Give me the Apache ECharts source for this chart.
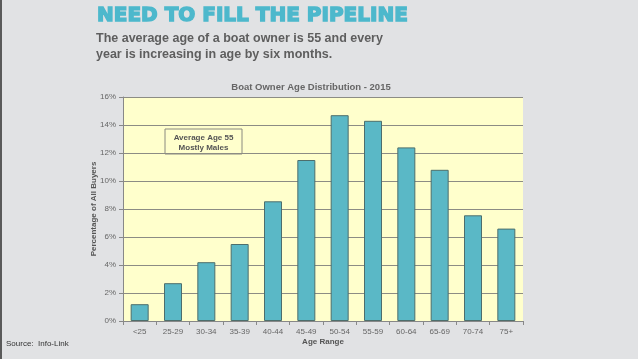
<!DOCTYPE html>
<html>
<head>
<meta charset="utf-8">
<script src="https://cdn.jsdelivr.net/npm/echarts@6/dist/echarts.min.js"></script>
<style>
html,body{margin:0;padding:0;background:#e1e2e4;}
#c{width:638px;height:359px;}
</style>
</head>
<body>
<div id="c"></div>
<script>
const categories = ['<25','25-29','30-34','35-39','40-44','45-49','50-54','55-59','60-64','65-69','70-74','75+'];
const shares = [1.2, 2.7, 4.2, 5.5, 8.55, 11.5, 14.7, 14.3, 12.4, 10.8, 7.55, 6.6];
const yTicks = [0, 2, 4, 6, 8, 10, 12, 14, 16];

const chart = echarts.init(document.getElementById('c'), null, {renderer:'canvas'});
const F = 'Liberation Sans, Arial, sans-serif';
chart.setOption({
  backgroundColor: '#e1e2e4',
  animation: false,
  grid: {left: 123, right: 115, top: 97, bottom: 38, backgroundColor: '#ffffcc', show: true, borderWidth: 0},
  title: {
    text: 'Boat Owner Age Distribution - 2015',
    left: 306, top: 77, textAlign: 'center',
    textStyle: {fontFamily: F, fontSize: 9.5, fontWeight: 'bold', color: '#666'}
  },
  xAxis: {
    type: 'category',
    data: categories,
    name: 'Age Range',
    nameLocation: 'middle',
    nameGap: 17,
    nameMoveOverlap: false,
    nameTextStyle: {fontFamily: F, fontSize: 8, fontWeight: 'bold', color: '#555'},
    axisLine: {lineStyle: {color: '#888', width: 1}},
    axisTick: {show: true, length: 4, lineStyle: {color: '#888'}},
    axisLabel: {fontFamily: F, fontSize: 8, color: '#666', margin: 7, interval: 0}
  },
  yAxis: {
    type: 'value',
    min: 0, max: 16, interval: 2,
    name: 'Percentage of All Buyers',
    nameLocation: 'middle',
    nameGap: 25,
    nameMoveOverlap: false,
    nameTextStyle: {fontFamily: F, fontSize: 8, fontWeight: 'bold', color: '#555'},
    axisLine: {show: true, lineStyle: {color: '#888', width: 1}},
    axisTick: {show: true, length: 4, lineStyle: {color: '#888'}},
    axisLabel: {fontFamily: F, fontSize: 8, color: '#666', margin: 7,
      formatter: v => yTicks.includes(v) ? v + '%' : ''},
    splitLine: {show: true, lineStyle: {color: '#8c8c84', width: 1}}
  },
  series: [{
    type: 'bar',
    data: shares,
    barWidth: 18,
    itemStyle: {color: '#5ab8c6', borderColor: '#4d6e6c', borderWidth: 1}
  }],
  graphic: [
    {type: 'rect', left: 0, top: 0, shape: {width: 2, height: 359}, style: {fill: '#5a5a5a'}},
    {type: 'text', x: 97, y: 6,
      style: {text: 'NEED TO FILL THE PIPELINE', font: '900 20px "DejaVu Sans", sans-serif',
        fill: '#4db8cc', stroke: '#4db8cc', lineWidth: 1.4, verticalAlign: 'top'}},
    {type: 'text', x: 96, y: 31,
      style: {text: 'The average age of a boat owner is 55 and every\nyear is increasing in age by six months.',
        font: 'bold 12.5px "Liberation Sans", Arial, sans-serif', fill: '#5e5e5e', lineHeight: 15.5, verticalAlign: 'top'}},
    {type: 'rect', x: 165, y: 129, shape: {width: 77, height: 25},
      style: {fill: '#ffffcc', stroke: '#8a8a80', lineWidth: 1}},
    {type: 'text', x: 203.5, y: 133,
      style: {text: 'Average Age 55\nMostly Males', align: 'center', verticalAlign: 'top',
        font: 'bold 8px "Liberation Sans", Arial, sans-serif', fill: '#555', lineHeight: 10}},
    {type: 'text', x: 6, y: 340,
      style: {text: 'Source:  Info-Link', font: '8px "Liberation Sans", Arial, sans-serif', fill: '#333', verticalAlign: 'top'}}
  ]
});
</script>
</body>
</html>
